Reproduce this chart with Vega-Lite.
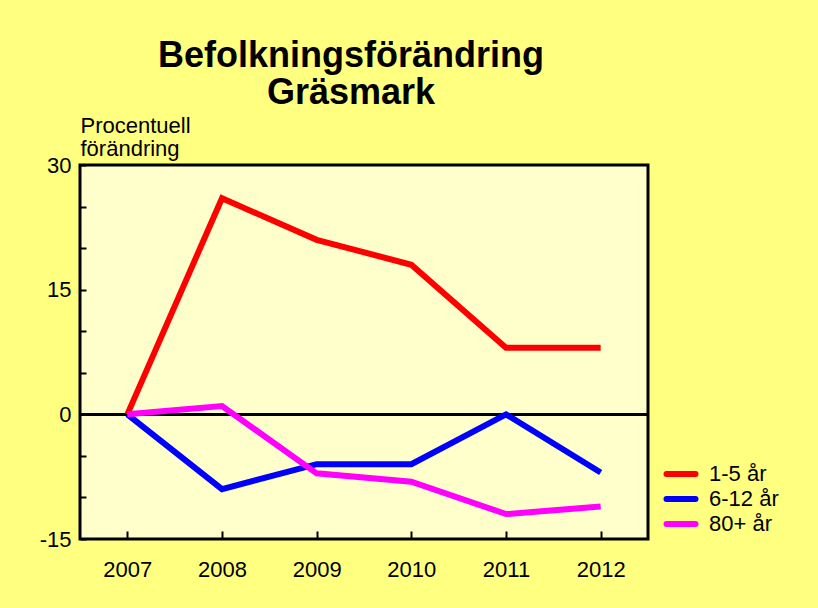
{
  "$schema": "https://vega.github.io/schema/vega-lite/v6.json",
  "width": 568,
  "height": 374,
  "autosize": {"type": "none"},
  "padding": {"left": 80, "top": 165, "right": 170, "bottom": 69},
  "background": "#FFFF80",
  "config": {
    "font": "Liberation Sans",
    "view": {"fill": "#FFFFCC", "stroke": "#000000", "strokeWidth": 3},
    "legend": {"padding": 0}
  },
  "title": {
    "text": ["Befolkningsförändring", "Gräsmark"],
    "fontSize": 36,
    "fontWeight": "bold",
    "color": "#000000",
    "anchor": "middle",
    "frame": "group",
    "dx": -13,
    "lineHeight": 37,
    "offset": 2
  },
  "data": {
    "values": [
      {"year": "2007", "group": "1-5 år", "value": 0},
      {"year": "2008", "group": "1-5 år", "value": 26},
      {"year": "2009", "group": "1-5 år", "value": 21},
      {"year": "2010", "group": "1-5 år", "value": 18},
      {"year": "2011", "group": "1-5 år", "value": 8},
      {"year": "2012", "group": "1-5 år", "value": 8},
      {"year": "2007", "group": "6-12 år", "value": 0},
      {"year": "2008", "group": "6-12 år", "value": -9},
      {"year": "2009", "group": "6-12 år", "value": -6},
      {"year": "2010", "group": "6-12 år", "value": -6},
      {"year": "2011", "group": "6-12 år", "value": 0},
      {"year": "2012", "group": "6-12 år", "value": -7},
      {"year": "2007", "group": "80+ år", "value": 0},
      {"year": "2008", "group": "80+ år", "value": 1},
      {"year": "2009", "group": "80+ år", "value": -7.1},
      {"year": "2010", "group": "80+ år", "value": -8.1},
      {"year": "2011", "group": "80+ år", "value": -12},
      {"year": "2012", "group": "80+ år", "value": -11.1}
    ]
  },
  "layer": [
    {
      "mark": {"type": "rule", "color": "#000000", "strokeWidth": 2.5},
      "encoding": {
        "y": {"datum": 0, "type": "quantitative", "scale": {"domain": [-15, 30], "nice": false}}
      }
    },
    {
      "mark": {"type": "line", "strokeWidth": 6, "strokeJoin": "miter"},
      "encoding": {
        "x": {
          "field": "year",
          "type": "ordinal",
          "scale": {"type": "point", "padding": 0.5},
          "axis": {
            "title": null,
            "labelAngle": 0,
            "labelFontSize": 22,
            "labelColor": "#000000",
            "labelPadding": 28,
            "domain": false,
            "tickSize": -8,
            "tickWidth": 2,
            "tickColor": "#000000"
          }
        },
        "y": {
          "field": "value",
          "type": "quantitative",
          "scale": {"domain": [-15, 30], "nice": false},
          "axis": {
            "values": [-15, -10, -5, 0, 5, 10, 15, 20, 25, 30],
            "labelExpr": "datum.value % 15 == 0 ? '' + datum.value : ''",
            "labelFontSize": 22,
            "labelColor": "#000000",
            "labelPadding": 15,
            "domain": false,
            "grid": false,
            "tickSize": -6,
            "tickWidth": 2,
            "tickColor": "#000000",
            "title": ["Procentuell", "förändring"],
            "titleAngle": 0,
            "titleAlign": "left",
            "titleBaseline": "bottom",
            "titleX": 0,
            "titleY": -28,
            "titleFontSize": 22,
            "titleFontWeight": "normal",
            "titleColor": "#000000",
            "titleLineHeight": 23
          }
        },
        "color": {
          "field": "group",
          "type": "nominal",
          "scale": {"domain": ["1-5 år", "6-12 år", "80+ år"], "range": ["#FF0000", "#0000FF", "#FF00FF"]},
          "legend": {
            "title": null,
            "orient": "none",
            "legendX": 588,
            "legendY": 296,
            "symbolType": "M-1.45,0H1.45",
            "symbolSize": 400,
            "symbolStrokeWidth": 6,
            "labelFontSize": 22,
            "labelColor": "#000000",
            "labelOffset": 15,
            "rowPadding": 0,
            "encode": {"symbols": {"update": {"strokeCap": {"value": "round"}}}}
          }
        }
      }
    }
  ]
}
